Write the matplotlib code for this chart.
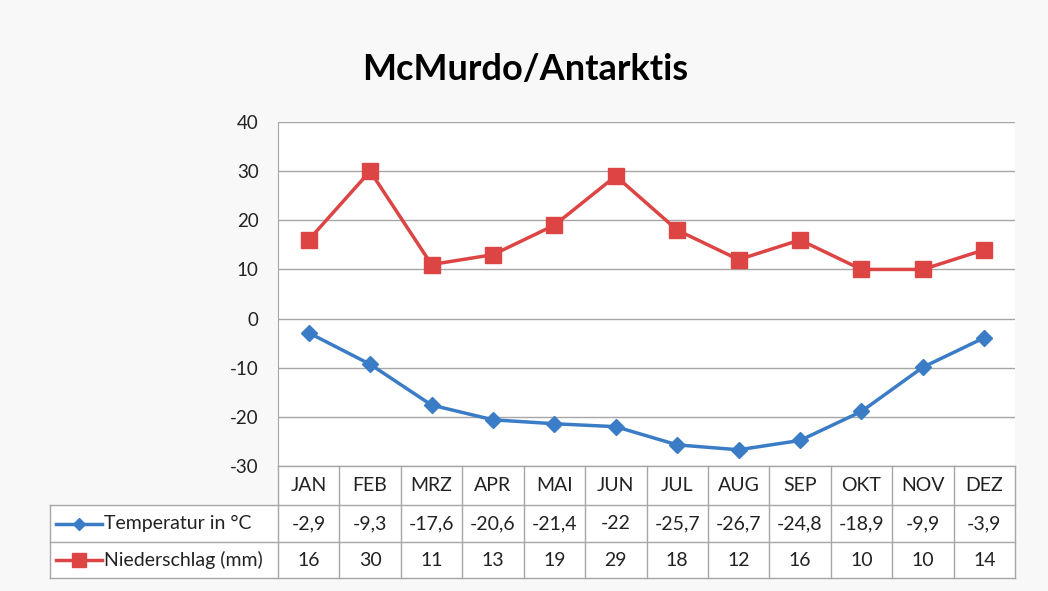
import numpy as np
import matplotlib.pyplot as plt
from matplotlib.lines import Line2D

months = ["JAN", "FEB", "MRZ", "APR", "MAI", "JUN", "JUL", "AUG", "SEP", "OKT", "NOV", "DEZ"]
temperatur = [-2.9, -9.3, -17.6, -20.6, -21.4, -22, -25.7, -26.7, -24.8, -18.9, -9.9, -3.9]
niederschlag = [16, 30, 11, 13, 19, 29, 18, 12, 16, 10, 10, 14]
series_names = ["Temperatur in °C", "Niederschlag (mm)"]
yticks = [-30, -20, -10, 0, 10, 20, 30, 40]

plt.rcParams['font.family'] = ['Lato', 'DejaVu Sans']

BLUE = '#3b7cc6'
RED = '#dd4444'
GRID = '#a6a6a6'
TXT = '#222222'

W, H = 1048, 591
fig = plt.figure(figsize=(W / 100, H / 100), dpi=100)
fig.patch.set_facecolor('#f8f8f8')

# pixel layout
x0, x1 = 278, 1015
y_top, y_bot = 122, 466
leg_x0 = 50
row_y = [466, 505, 542, 578]

ax = fig.add_axes([x0 / W, 1 - y_bot / H, (x1 - x0) / W, (y_bot - y_top) / H])
ax.set_facecolor('white')
n = len(months)
xs = np.arange(n)
ax.set_xlim(-0.5, n - 0.5)
ax.set_ylim(-30, 40)
ax.set_yticks(yticks)
ax.set_yticklabels([str(v) for v in yticks], fontsize=13.5, color=TXT)
ax.tick_params(axis='y', length=0, pad=14)
ax.set_xticks([])
for v in yticks:
    ax.axhline(v, color=GRID, lw=1.0, zorder=1)
for s in ['top', 'right', 'bottom']:
    ax.spines[s].set_visible(False)
ax.spines['left'].set_color(GRID)

ax.plot(xs, niederschlag, color=RED, lw=2.5, marker='s', ms=11, zorder=3, clip_on=False)
ax.plot(xs, temperatur, color=BLUE, lw=2.5, marker='D', ms=8, zorder=3, clip_on=False)

# data table
tab = fig.add_axes([0, 0, 1, 1])
tab.set_xlim(0, W)
tab.set_ylim(H, 0)
tab.axis('off')
tab.patch.set_alpha(0)

cw = (x1 - x0) / n
col_edges = [x0 + i * cw for i in range(n + 1)]
# white cells
tab.fill_between([x0, x1], row_y[0], row_y[3], color='white', zorder=0)
tab.fill_between([leg_x0, x0], row_y[1], row_y[3], color='white', zorder=0)
# horizontal lines
tab.plot([x0, x1], [row_y[0], row_y[0]], color=GRID, lw=1)
for y in row_y[1:]:
    tab.plot([leg_x0, x1], [y, y], color=GRID, lw=1)
# vertical lines
for xe in col_edges:
    tab.plot([xe, xe], [row_y[0], row_y[3]], color=GRID, lw=1)
tab.plot([leg_x0, leg_x0], [row_y[1], row_y[3]], color=GRID, lw=1)

fmt = lambda v: (f"{v:g}").replace('.', ',')
fs = 14
for i, m in enumerate(months):
    cx = x0 + (i + 0.5) * cw
    tab.text(cx, (row_y[0] + row_y[1]) / 2, m, ha='center', va='center', fontsize=fs, color=TXT)
    tab.text(cx, (row_y[1] + row_y[2]) / 2, fmt(temperatur[i]), ha='center', va='center', fontsize=fs, color=TXT)
    tab.text(cx, (row_y[2] + row_y[3]) / 2, fmt(niederschlag[i]), ha='center', va='center', fontsize=fs, color=TXT)

# legend keys inside the table
for k, (name, col, mk, ms) in enumerate([(series_names[0], BLUE, 'D', 6), (series_names[1], RED, 's', 10)]):
    yc = (row_y[k + 1] + row_y[k + 2]) / 2
    tab.add_line(Line2D([56, 102], [yc, yc], color=col, lw=2.5))
    tab.plot([79], [yc], marker=mk, ms=ms, color=col)
    tab.text(104, yc, name, ha='left', va='center', fontsize=fs, color=TXT)

fig.text(525 / W, 1 - 70 / H, "McMurdo/Antarktis", ha='center', va='center',
         fontsize=26, fontweight='bold', color='black')

fig.savefig("out.png", dpi=100, facecolor=fig.get_facecolor())
